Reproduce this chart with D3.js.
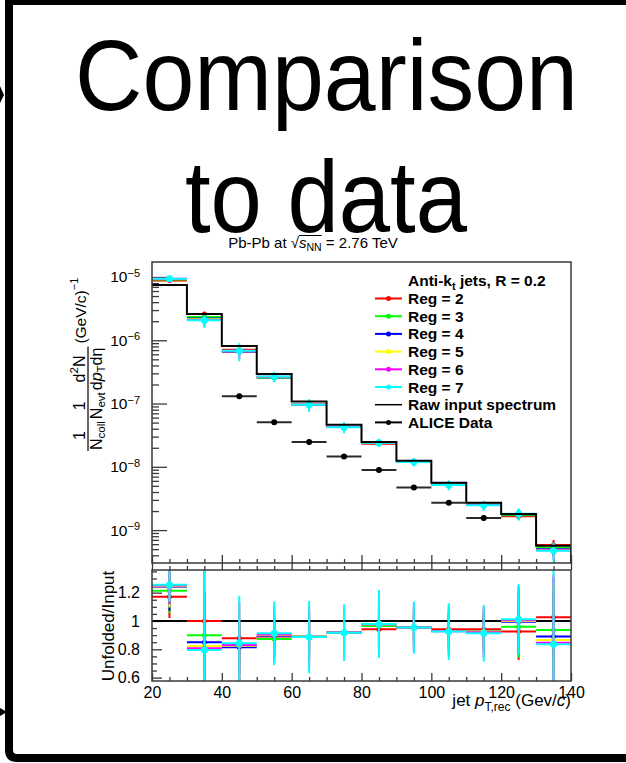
<!DOCTYPE html>
<html><head><meta charset="utf-8">
<script src="https://cdn.jsdelivr.net/npm/d3@7"></script>
<style>
body{margin:0;background:#fff}
svg{display:block}
text{font-family:"Liberation Sans",Arial,Helvetica,sans-serif;white-space:pre}
</style>
</head><body>
<svg id="c" width="626" height="763"></svg>
<script>
// ---------------- data ----------------
const binEdges = [20,30,40,50,60,70,80,90,100,110,120,130,140];
const rawInput = [7.5e-6,2.6e-6,8.1e-7,2.92e-7,1.08e-7,4.62e-8,2.46e-8,1.25e-8,5.6e-9,2.7e-9,1.79e-9,5.65e-10];
const aliceData = [null,null,1.31e-7,5.05e-8,2.46e-8,1.46e-8,8.9e-9,4.73e-9,2.7e-9,1.55e-9,null,null];
const aliceRelErr = [null,null,0.03,0.03,0.03,0.03,0.04,0.05,0.06,0.1,null,null];

const regLabels = ["Reg = 2","Reg = 3","Reg = 4","Reg = 5","Reg = 6","Reg = 7"];
const regColors = ["#ff0000","#00ff00","#0000ff","#ffff00","#ff00ff","#00ffff"];

// unfolded / input ratios
const ratioReg2 = [1.171,1.0,0.878,0.89,0.889,0.918,0.941,0.953,0.941,0.941,0.925,1.026];
const ratioReg3 = [1.214,0.899,0.83,0.872,0.889,0.918,0.965,0.953,0.93,0.93,0.96,0.937];
const ratioReg4 = [1.242,0.85,0.815,0.894,0.889,0.918,0.975,0.953,0.93,0.925,0.995,0.89];
const ratioReg5 = [1.245,0.824,0.825,0.9,0.889,0.918,0.975,0.953,0.93,0.925,1.0,0.866];
const ratioReg6 = [1.25,0.807,0.83,0.905,0.887,0.918,0.977,0.953,0.928,0.92,1.005,0.847];
const ratioReg7 = [1.255,0.795,0.843,0.913,0.886,0.917,0.979,0.953,0.925,0.913,1.012,0.835];

// ratio errors
const ratioErrReg2 = [0.15,0.2,0.12,0.1,0.1,0.09,0.1,0.08,0.09,0.09,0.2,0.28];
const ratioErrReg3 = [0.16,0.28,0.16,0.13,0.13,0.12,0.14,0.11,0.12,0.12,0.22,0.3];
const ratioErrReg4 = [0.17,0.35,0.2,0.15,0.16,0.14,0.17,0.13,0.14,0.14,0.22,0.32];
const ratioErrReg5 = [0.15,0.45,0.25,0.18,0.19,0.16,0.2,0.15,0.16,0.16,0.23,0.4];
const ratioErrReg6 = [0.13,0.55,0.3,0.2,0.22,0.18,0.22,0.17,0.18,0.18,0.24,0.48];
const ratioErrReg7 = [0.12,0.6,0.335,0.225,0.255,0.2,0.24,0.185,0.2,0.2,0.25,0.55];

// relative errors of unfolded spectra (upper panel)
const specErrReg2 = [0.02,0.08,0.06,0.05,0.05,0.05,0.05,0.05,0.06,0.06,0.1,0.2];
const specErrReg3 = [0.02,0.1,0.08,0.07,0.07,0.07,0.07,0.07,0.08,0.08,0.12,0.2];
const specErrReg4 = [0.02,0.13,0.12,0.09,0.1,0.09,0.09,0.09,0.1,0.1,0.14,0.22];
const specErrReg5 = [0.02,0.16,0.17,0.12,0.13,0.12,0.11,0.11,0.12,0.12,0.16,0.25];
const specErrReg6 = [0.03,0.2,0.24,0.15,0.18,0.16,0.13,0.13,0.15,0.15,0.19,0.29];
const specErrReg7 = [0.03,0.24,0.32,0.19,0.23,0.2,0.15,0.15,0.18,0.18,0.22,0.33];

const ratioTickLabels = ["0.6","0.8","1","1.2"];
const xTickLabels = ["20","40","60","80","100","120","140"];

const ratios = [ratioReg2,ratioReg3,ratioReg4,ratioReg5,ratioReg6,ratioReg7];
const ratioErrs = [ratioErrReg2,ratioErrReg3,ratioErrReg4,ratioErrReg5,ratioErrReg6,ratioErrReg7];
const specErrs = [specErrReg2,specErrReg3,specErrReg4,specErrReg5,specErrReg6,specErrReg7];

// ---------------- layout ----------------
const svg = d3.select("#c");
const FL=152, FR=571, UT=262, UB=563, RT=570, RB=681;
const AX="#3a3a3a";

const x = d3.scaleLinear([20,140],[FL,FR]);
const y = d3.scaleLog([Math.pow(10,-9.52), Math.pow(10,-4.763)],[UB,UT]);
const yr = d3.scaleLinear([0.576,1.36],[RB,RT]);

// slide border
svg.append("rect").attr("x",5).attr("y",0).attr("width",621).attr("height",5).attr("fill","#000");
svg.append("path").attr("d","M9,0 V750 Q9,758 17,758 H626").attr("fill","none").attr("stroke","#000").attr("stroke-width",8);
svg.append("path").attr("d","M0,86 L4,95 L0,103 Z").attr("fill","#000");
svg.append("path").attr("d","M0,708 L7,712 L0,716 Z").attr("fill","#000");

// big title
svg.append("text").attr("x",75).attr("y",110).attr("font-size",100)
  .attr("textLength",503).attr("lengthAdjust","spacingAndGlyphs").text("Comparison");
svg.append("text").attr("x",185).attr("y",232).attr("font-size",102)
  .attr("textLength",282).attr("lengthAdjust","spacingAndGlyphs").text("to data");

// text run helper (separate pieces, used for the rotated fraction title)
function run(parent, x0, y0, parts){
  const g = parent.append("g");
  let cx = x0;
  parts.forEach(p=>{
    const t = g.append("text").attr("x",cx).attr("y",y0+(p.dy||0)).attr("font-size",p.size).text(p.t);
    if(p.italic) t.attr("font-style","italic");
    cx += t.node().getComputedTextLength();
  });
  return {g, width:cx-x0};
}
// single text element with tspans
function rich(parent, x0, y0, parts, anchor){
  const t = parent.append("text").attr("x",x0).attr("y",y0).attr("text-anchor",anchor||"start");
  let prev = 0;
  parts.forEach(p=>{
    const s = t.append("tspan").attr("font-size",p.size).attr("dy",(p.dy||0)-prev).text(p.t);
    if(p.italic) s.attr("font-style","italic");
    if(p.bold) s.attr("font-weight","bold");
    prev = p.dy||0;
  });
  return t;
}

// subtitle
{
  const t = rich(svg, 313, 248, [
    {t:"Pb-Pb at ",size:15},
    {t:"\u221A",size:15},
    {t:"s",size:15,italic:true},
    {t:"NN",size:10.5,dy:3},
    {t:" = 2.76 TeV",size:15}
  ], "middle");
  const n = t.node();
  const xa = n.getStartPositionOfChar(10).x, xb = n.getEndPositionOfChar(12).x;
  svg.append("line").attr("x1",xa).attr("x2",xb).attr("y1",235.5).attr("y2",235.5)
    .attr("stroke","#000").attr("stroke-width",1);
}

// clip paths
const defs = svg.append("defs");
defs.append("clipPath").attr("id","cu").append("rect").attr("x",FL).attr("y",UT).attr("width",FR-FL).attr("height",UB-UT);
defs.append("clipPath").attr("id","cr").append("rect").attr("x",FL).attr("y",RT).attr("width",FR-FL).attr("height",RB-RT);

// ---------------- upper panel axes ----------------
const logTicks=[];
for(let e=-10;e<=-4;e++) for(let m=1;m<=9;m++){const v=m*Math.pow(10,e); if(v>=y.domain()[0]&&v<=y.domain()[1]) logTicks.push(v);}
const isDecade = d => Math.abs(Math.log10(d)-Math.round(Math.log10(d)))<1e-6;

const gY = svg.append("g").attr("transform",`translate(${FL},0)`)
  .call(d3.axisLeft(y).tickValues(logTicks).tickSize(-7).tickPadding(12).tickFormat(()=>""));
gY.select(".domain").remove();
gY.selectAll(".tick line").attr("stroke",AX).attr("stroke-width",1.3);
gY.selectAll(".tick").filter(isDecade).select("line").attr("x2",15);
gY.selectAll(".tick").filter(isDecade).select("text").each(function(d){
  const e = Math.round(Math.log10(d));
  const t = d3.select(this).attr("font-size",15.5).attr("fill","#000");
  t.text("10");
  t.append("tspan").attr("dy","-0.5em").attr("font-size",11).text("\u2212"+(-e));
});

const xMinor = d3.range(20,141,5);
const gXu = svg.append("g").attr("transform",`translate(0,${UB})`)
  .call(d3.axisBottom(x).tickValues(xMinor).tickSize(-4).tickFormat(()=>""));
gXu.select(".domain").remove();
gXu.selectAll(".tick line").attr("stroke",AX).attr("stroke-width",1.3);
gXu.selectAll(".tick").filter(d=>d%20===0).select("line").attr("y2",-8);

// ---------------- upper panel data ----------------
const up = svg.append("g").attr("clip-path","url(#cu)");
const bins = d3.range(rawInput.length);
ratios.forEach((rat,i)=>{
  const col = regColors[i];
  const vals = rat.map((r,j)=>r*rawInput[j]);   // unfolded = ratio x input
  const g = up.append("g");
  g.selectAll("line.h").data(bins).join("line")
    .attr("x1",j=>x(binEdges[j])).attr("x2",j=>x(binEdges[j+1]))
    .attr("y1",j=>y(vals[j])).attr("y2",j=>y(vals[j]))
    .attr("stroke",col).attr("stroke-width",2);
  g.selectAll("line.v").data(bins).join("line")
    .attr("x1",j=>x((binEdges[j]+binEdges[j+1])/2)).attr("x2",j=>x((binEdges[j]+binEdges[j+1])/2))
    .attr("y1",j=>y(vals[j]*(1-specErrs[i][j]))).attr("y2",j=>y(vals[j]*(1+specErrs[i][j])))
    .attr("stroke",col).attr("stroke-width",2);
  g.selectAll("circle").data(bins).join("circle")
    .attr("cx",j=>x((binEdges[j]+binEdges[j+1])/2)).attr("cy",j=>y(vals[j]))
    .attr("r",i===5?3.5:2.5).attr("fill",col);
});
// raw input step histogram
const stepPts = [];
bins.forEach(j=>{stepPts.push([binEdges[j],rawInput[j]]);stepPts.push([binEdges[j+1],rawInput[j]]);});
up.append("path").attr("d",
  d3.line().x(d=>x(d[0])).y(d=>y(d[1]))(stepPts) + `V${UB+5}`)
  .attr("fill","none").attr("stroke","#000").attr("stroke-width",2);
// ALICE data
const dBins = bins.filter(j=>aliceData[j]!==null);
const dg = up.append("g");
dg.selectAll("line.h").data(dBins).join("line")
  .attr("x1",j=>x(binEdges[j])).attr("x2",j=>x(binEdges[j+1]))
  .attr("y1",j=>y(aliceData[j])).attr("y2",j=>y(aliceData[j]))
  .attr("stroke","#2a2a2a").attr("stroke-width",2);
dg.selectAll("line.v").data(dBins).join("line")
  .attr("x1",j=>x((binEdges[j]+binEdges[j+1])/2)).attr("x2",j=>x((binEdges[j]+binEdges[j+1])/2))
  .attr("y1",j=>y(aliceData[j]*(1-aliceRelErr[j]))).attr("y2",j=>y(aliceData[j]*(1+aliceRelErr[j])))
  .attr("stroke","#000").attr("stroke-width",2);
dg.selectAll("circle").data(dBins).join("circle")
  .attr("cx",j=>x((binEdges[j]+binEdges[j+1])/2)).attr("cy",j=>y(aliceData[j]))
  .attr("r",3).attr("fill","#000");

// frame
svg.append("rect").attr("x",FL).attr("y",UT).attr("width",FR-FL).attr("height",UB-UT)
  .attr("fill","none").attr("stroke",AX).attr("stroke-width",1.5);

// legend
const legX1=375, legX2=402, legTX=408, LFS=15.5;
rich(svg, legTX, 286, [
  {t:"Anti-k",size:LFS,bold:true},
  {t:"t",size:11,bold:true,dy:4},
  {t:" jets, R = 0.2",size:LFS,bold:true}
]);
const legItems = regLabels.map((l,i)=>({label:l,color:regColors[i],marker:true}))
  .concat([{label:"Raw input spectrum",color:"#000",marker:false},{label:"ALICE Data",color:"#000",marker:true}]);
legItems.forEach((it,i)=>{
  const cy = 298.5 + i*17.7;
  svg.append("line").attr("x1",legX1).attr("x2",legX2).attr("y1",cy).attr("y2",cy)
    .attr("stroke",it.color).attr("stroke-width",it.marker?2:1.5);
  if(it.marker) svg.append("circle").attr("cx",(legX1+legX2)/2).attr("cy",cy).attr("r",2.5).attr("fill",it.color);
  svg.append("text").attr("x",legTX).attr("y",cy+5.5).attr("font-size",LFS).attr("font-weight","bold").text(it.label);
});

// y-axis title (rotated)
{
  const g = svg.append("g").attr("transform","translate(88,451) rotate(-90)");
  let u = 0;
  const M=16, S=11.5;
  const fracs = [
    {num:[{t:"1",size:M}], den:[{t:"N",size:M},{t:"coll",size:S,dy:3}]},
    {num:[{t:"1",size:M}], den:[{t:"N",size:M},{t:"evt",size:S,dy:3}]},
    {num:[{t:"d",size:M},{t:"2",size:S,dy:-7},{t:"N",size:M}],
     den:[{t:"d",size:M},{t:"p",size:M,italic:true},{t:"T",size:S,dy:3},{t:"d",size:M},{t:"\u03B7",size:M}]}
  ];
  fracs.forEach(f=>{
    const den = run(g, u+1, 0, f.den.map(p=>({...p,dy:(p.dy||0)+14})));
    const num = run(g, 0, 0, f.num.map(p=>({...p,dy:(p.dy||0)-3})));
    const w = Math.max(den.width,num.width)+2;
    den.g.attr("transform",`translate(${(w-2-den.width)/2},0)`);
    num.g.attr("transform",`translate(${u+(w-num.width)/2},0)`);
    g.append("line").attr("x1",u).attr("x2",u+w).attr("y1",0).attr("y2",0).attr("stroke","#000").attr("stroke-width",1.2);
    u += w;
  });
  rich(g, u+3, -2, [{t:"(GeV/c)",size:15.5},{t:"\u22121",size:11,dy:-8}]);
}

// ---------------- ratio panel ----------------
const gYr = svg.append("g").attr("transform",`translate(${FL},0)`)
  .call(d3.axisLeft(yr).tickValues(d3.range(0.6,1.36,0.05).map(v=>+v.toFixed(2))).tickSize(-5).tickPadding(12)
  .tickFormat(d=>{const k=[0.6,0.8,1,1.2].indexOf(d); return k>=0?ratioTickLabels[k]:"";}));
gYr.select(".domain").remove();
gYr.selectAll(".tick line").attr("stroke",AX).attr("stroke-width",1.3);
gYr.selectAll(".tick").filter(d=>[0.6,0.8,1,1.2].includes(d)).select("line").attr("x2",10);
gYr.selectAll(".tick text").attr("font-size",16).attr("fill","#000");

const gXr = svg.append("g").attr("transform",`translate(0,${RB})`)
  .call(d3.axisBottom(x).tickValues(xMinor).tickSize(-4).tickPadding(5.5)
  .tickFormat(d=>{const k=[20,40,60,80,100,120,140].indexOf(d); return k>=0?xTickLabels[k]:"";}));
gXr.select(".domain").remove();
gXr.selectAll(".tick line").attr("stroke",AX).attr("stroke-width",1.3);
gXr.selectAll(".tick").filter(d=>d%20===0).select("line").attr("y2",-8);
gXr.selectAll(".tick text").attr("font-size",16).attr("fill","#000");
// top ticks of ratio panel
const gXrt = svg.append("g").attr("transform",`translate(0,${RT})`)
  .call(d3.axisTop(x).tickValues(xMinor).tickSize(4).tickFormat(()=>""));
gXrt.select(".domain").remove();
gXrt.selectAll(".tick line").attr("stroke",AX).attr("stroke-width",1.3);
gXrt.selectAll(".tick").filter(d=>d%20===0).select("line").attr("y2",-8);

const rp = svg.append("g").attr("clip-path","url(#cr)");
rp.append("line").attr("x1",FL).attr("x2",FR).attr("y1",yr(1)).attr("y2",yr(1)).attr("stroke","#000").attr("stroke-width",2);
ratios.forEach((rat,i)=>{
  const col = regColors[i];
  const g = rp.append("g");
  g.selectAll("line.h").data(bins).join("line")
    .attr("x1",j=>x(binEdges[j])).attr("x2",j=>x(binEdges[j+1]))
    .attr("y1",j=>yr(rat[j])).attr("y2",j=>yr(rat[j]))
    .attr("stroke",col).attr("stroke-width",2);
  g.selectAll("line.v").data(bins).join("line")
    .attr("x1",j=>x((binEdges[j]+binEdges[j+1])/2)).attr("x2",j=>x((binEdges[j]+binEdges[j+1])/2))
    .attr("y1",j=>yr(rat[j]-ratioErrs[i][j])).attr("y2",j=>yr(rat[j]+ratioErrs[i][j]))
    .attr("stroke",col).attr("stroke-width",2);
  g.selectAll("circle").data(bins).join("circle")
    .attr("cx",j=>x((binEdges[j]+binEdges[j+1])/2)).attr("cy",j=>yr(rat[j]))
    .attr("r",i===5?3.5:2.5).attr("fill",col);
});
svg.append("rect").attr("x",FL).attr("y",RT).attr("width",FR-FL).attr("height",RB-RT)
  .attr("fill","none").attr("stroke",AX).attr("stroke-width",1.5);

// ratio y title
svg.append("text").attr("transform","translate(114,626) rotate(-90)").attr("text-anchor","middle")
  .attr("font-size",17).text("Unfolded/Input");

// x title
rich(svg, 571, 706, [
  {t:"jet ",size:17},
  {t:"p",size:17,italic:true},
  {t:"T,rec",size:12,dy:5},
  {t:" (Gev/",size:17},
  {t:"c",size:17,italic:true},
  {t:")",size:17}
], "end");
</script>
</body></html>
